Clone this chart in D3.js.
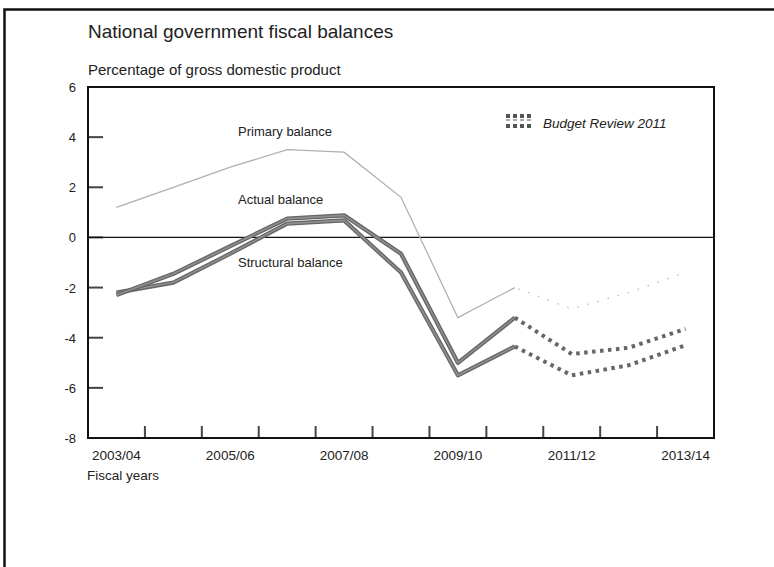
<!DOCTYPE html>
<html>
<head>
<meta charset="utf-8">
<script src="https://cdn.jsdelivr.net/npm/d3@7"></script>
<style>
  body { margin: 0; background: #fff; }
  text { font-family: "Liberation Sans", Arial, sans-serif; fill: #222; }
</style>
</head>
<body>
<script>
// fiscal years on the x axis
var years = ["2003/04", "2004/05", "2005/06", "2006/07", "2007/08", "2008/09",
             "2009/10", "2010/11", "2011/12", "2012/13", "2013/14"];
var yTicks = [6, 4, 2, 0, -2, -4, -6, -8];
var xLabels = ["2003/04", "2005/06", "2007/08", "2009/10", "2011/12", "2013/14"];

// % of GDP; last 3 values are Budget Review 2011 projections
var primary    = [1.2, 2.0, 2.8, 3.5, 3.4, 1.6, -3.2, -2.0, -2.85, -2.2, -1.4];
var actual     = [-2.3, -1.45, -0.35, 0.75, 0.88, -0.65, -5.0, -3.2, -4.65, -4.4, -3.65];
var structural = [-2.2, -1.8, -0.65, 0.55, 0.68, -1.4, -5.5, -4.35, -5.5, -5.1, -4.3];
var lastActual = 7; // index of 2010/11

var width = 774, height = 567;
var svg = d3.select("body").append("svg")
  .attr("width", width)
  .attr("height", height);

// outer frame (scan shows left + top only)
svg.append("path")
  .attr("d", "M4.5,567 V9.5 H774")
  .attr("fill", "none")
  .attr("stroke", "#111")
  .attr("stroke-width", 2.5);

var pLeft = 88, pRight = 714, pTop = 87, pBottom = 438;

var x = d3.scaleBand().domain(years).range([pLeft, pRight]);
var y = d3.scaleLinear().domain([-8, 6]).range([pBottom, pTop]);
var cx = function(i) { return x(years[i]) + x.bandwidth() / 2; };

svg.append("text")
  .attr("x", 88).attr("y", 38)
  .style("font-size", "19px")
  .text("National government fiscal balances");

svg.append("text")
  .attr("x", 88).attr("y", 75)
  .style("font-size", "15px")
  .text("Percentage of gross domestic product");

// y tick labels
svg.selectAll(".ylab")
  .data(yTicks)
  .enter().append("text")
  .attr("class", "ylab")
  .attr("x", 76)
  .attr("y", function(d) { return y(d) + 5; })
  .attr("text-anchor", "end")
  .style("font-size", "13px")
  .text(function(d) { return d; });

// inner y ticks
svg.selectAll(".ytick")
  .data(yTicks.filter(function(d) { return d > -8 && d < 6; }))
  .enter().append("line")
  .attr("x1", pLeft).attr("x2", pLeft + 15)
  .attr("y1", function(d) { return y(d); })
  .attr("y2", function(d) { return y(d); })
  .attr("stroke", "#444").attr("stroke-width", 2);

// x ticks at year boundaries
svg.selectAll(".xtick")
  .data(years.slice(1))
  .enter().append("line")
  .attr("x1", function(d) { return x(d); })
  .attr("x2", function(d) { return x(d); })
  .attr("y1", pBottom).attr("y2", pBottom - 12)
  .attr("stroke", "#444").attr("stroke-width", 2);

svg.selectAll(".xlab")
  .data(xLabels)
  .enter().append("text")
  .attr("x", function(d) { return x(d) + x.bandwidth() / 2; })
  .attr("y", pBottom + 22)
  .attr("text-anchor", "middle")
  .style("font-size", "13.5px")
  .text(function(d) { return d; });

svg.append("text")
  .attr("x", 87).attr("y", pBottom + 42)
  .style("font-size", "13.5px")
  .text("Fiscal years");

// zero line
svg.append("line")
  .attr("x1", pLeft).attr("x2", pRight)
  .attr("y1", y(0)).attr("y2", y(0))
  .attr("stroke", "#111").attr("stroke-width", 1.3);

var line = d3.line()
  .x(function(d) { return d.x; })
  .y(function(d) { return y(d.v); });

function pts(arr, from, to) {
  var out = [];
  for (var i = from; i <= to; i++) out.push({ x: cx(i), v: arr[i] });
  return out;
}

// primary balance: thin light line
svg.append("path")
  .attr("d", line(pts(primary, 0, lastActual)))
  .attr("fill", "none").attr("stroke", "#b0b0b0").attr("stroke-width", 1.3);
svg.append("path")
  .attr("d", line(pts(primary, lastActual, years.length - 1)))
  .attr("fill", "none").attr("stroke", "#b8b8b8").attr("stroke-width", 1.3)
  .attr("stroke-dasharray", "1.5,9").attr("stroke-dashoffset", -14);

// actual and structural: thick grey lines
[structural, actual].forEach(function(arr) {
  svg.append("path")
    .attr("d", line(pts(arr, 0, lastActual)))
    .attr("fill", "none").attr("stroke", "#666").attr("stroke-width", 4.2)
    .attr("stroke-linejoin", "round");
  svg.append("path")
    .attr("d", line(pts(arr, 0, lastActual)))
    .attr("fill", "none").attr("stroke", "#8e8e8e").attr("stroke-width", 1.6);
  svg.append("path")
    .attr("d", line(pts(arr, lastActual, years.length - 1)))
    .attr("fill", "none").attr("stroke", "#666").attr("stroke-width", 4)
    .attr("stroke-dasharray", "3.5,4.5").attr("stroke-dashoffset", -8);
});

// plot frame
svg.append("rect")
  .attr("x", pLeft).attr("y", pTop)
  .attr("width", pRight - pLeft).attr("height", pBottom - pTop)
  .attr("fill", "none").attr("stroke", "#111").attr("stroke-width", 2);

// series labels
var labels = [
  { t: "Primary balance", v: 4.2 },
  { t: "Actual balance", v: 1.5 },
  { t: "Structural balance", v: -1.0 }
];
svg.selectAll(".slab")
  .data(labels)
  .enter().append("text")
  .attr("x", 238)
  .attr("y", function(d) { return y(d.v) + 4; })
  .style("font-size", "13px")
  .text(function(d) { return d.t; });

// legend
var lg = svg.append("g").attr("transform", "translate(506,114)");
[0, 1, 2].forEach(function(r) {
  for (var c = 0; c < 4; c++) {
    lg.append("rect")
      .attr("x", c * 7).attr("y", r * 5)
      .attr("width", 4).attr("height", r === 1 ? 2 : 4)
      .attr("fill", r === 1 ? "#aaa" : "#555");
  }
});
svg.append("text")
  .attr("x", 543).attr("y", 128)
  .style("font-size", "13.5px")
  .style("font-style", "italic")
  .text("Budget Review 2011");
</script>
</body>
</html>
